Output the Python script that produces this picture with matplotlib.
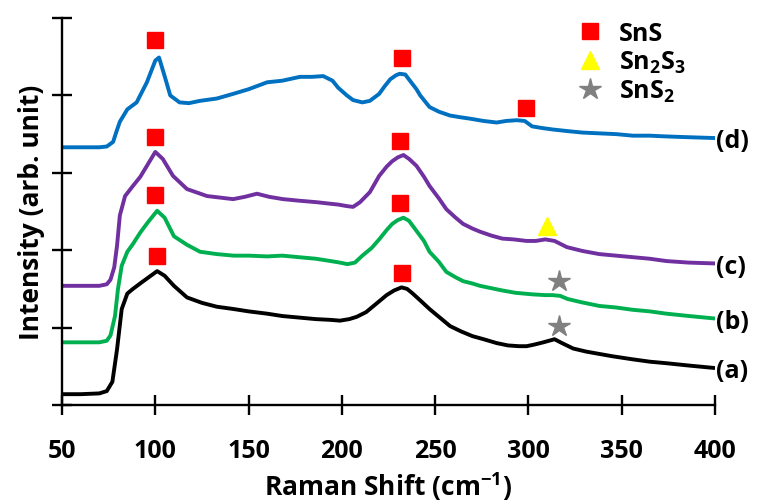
import matplotlib
matplotlib.use("Agg")
import matplotlib.pyplot as plt
from matplotlib.lines import Line2D

plt.rcParams['font.family'] = ['Open Sans', 'DejaVu Sans']
plt.rcParams['font.weight'] = 'bold'
plt.rcParams['mathtext.fontset'] = 'custom'
plt.rcParams['mathtext.rm'] = 'Open Sans:bold'
plt.rcParams['mathtext.default'] = 'rm'

# Raman spectra, offset vertically (a) -> (d)
x_a = [50, 60, 70, 74, 77, 79.5, 82, 85, 88, 93, 97, 101, 105, 110, 117, 125, 133, 142, 150,
       160, 168, 177, 186, 194, 199, 204, 208, 213, 219, 224, 228, 232, 235, 238, 243, 247,
       252, 258, 264, 270, 276, 283, 289, 295, 299, 303, 308, 314, 318, 324, 331, 338, 345,
       356, 365, 374, 386, 399]
y_a = [0.14, 0.14, 0.15, 0.18, 0.30, 0.72, 1.24, 1.44, 1.50, 1.59, 1.66, 1.73, 1.67, 1.54,
       1.39, 1.32, 1.27, 1.24, 1.21, 1.18, 1.15, 1.13, 1.11, 1.10, 1.09, 1.11, 1.14, 1.20,
       1.32, 1.42, 1.48, 1.52, 1.50, 1.44, 1.33, 1.24, 1.14, 1.02, 0.95, 0.89, 0.85, 0.80,
       0.77, 0.76, 0.76, 0.78, 0.81, 0.85, 0.80, 0.73, 0.69, 0.66, 0.63, 0.59, 0.56, 0.54,
       0.51, 0.48]

x_b = [50, 60, 70, 74, 76, 78.4, 80, 82, 85, 88, 92, 96, 101, 105, 110, 117, 124, 133, 142,
       150, 160, 168, 177, 186, 194, 199, 203, 207, 211, 216, 220, 224, 227, 230, 233, 236,
       240, 244, 247, 252, 256, 261, 265, 270, 274, 280, 286, 293, 302, 309, 313, 317, 321,
       328, 338, 347, 356, 365, 374, 386, 399]
y_b = [0.81, 0.81, 0.81, 0.83, 0.90, 1.15, 1.50, 1.80, 1.98, 2.08, 2.23, 2.36, 2.51, 2.42,
       2.18, 2.07, 1.98, 1.95, 1.93, 1.93, 1.92, 1.93, 1.91, 1.89, 1.86, 1.84, 1.82, 1.84,
       1.93, 2.03, 2.14, 2.26, 2.34, 2.39, 2.42, 2.38, 2.25, 2.12, 1.98, 1.85, 1.72, 1.65,
       1.60, 1.57, 1.54, 1.51, 1.48, 1.45, 1.43, 1.42, 1.42, 1.41, 1.37, 1.33, 1.28, 1.26,
       1.23, 1.21, 1.18, 1.15, 1.12]

x_c = [50, 60, 70, 74, 76, 78, 79.5, 81, 83.8, 88, 92, 95.5, 100, 104, 109.5, 117, 127.7,
       141.7, 148, 154.5, 161, 168.5, 177, 186.7, 194, 198, 202.7, 206, 209.7, 215, 220, 224,
       227, 230, 233, 236, 240, 244, 247, 252, 256, 261, 265, 270, 274, 280, 286, 292, 299,
       304, 309, 314, 320.6, 329, 338, 347, 356, 365, 374, 386, 399]
y_c = [1.54, 1.54, 1.54, 1.56, 1.62, 1.78, 2.06, 2.45, 2.70, 2.83, 2.95, 3.09, 3.27, 3.18,
       2.96, 2.79, 2.70, 2.66, 2.69, 2.73, 2.69, 2.66, 2.64, 2.62, 2.60, 2.59, 2.57, 2.56,
       2.62, 2.75, 2.96, 3.08, 3.15, 3.20, 3.23, 3.18, 3.09, 2.95, 2.83, 2.67, 2.53, 2.42,
       2.34, 2.28, 2.24, 2.19, 2.15, 2.14, 2.12, 2.12, 2.14, 2.12, 2.04, 1.99, 1.95, 1.93,
       1.91, 1.89, 1.86, 1.84, 1.83]

x_d = [50, 60, 70, 74, 77.4, 79, 81, 85, 90, 95.5, 100, 102, 105, 108, 113, 118, 124, 133,
       141.7, 150, 160, 168, 177.5, 184, 190, 195, 198, 202.7, 206, 211, 215, 220, 223, 226,
       229, 231, 234, 236.5, 240, 242, 247, 252, 258, 263, 268.6, 276, 283, 288, 293.8, 298,
       302, 307, 313, 320.6, 329, 338, 347, 356, 365, 374, 386, 399]
y_d = [3.33, 3.33, 3.33, 3.34, 3.40, 3.52, 3.66, 3.82, 3.91, 4.17, 4.45, 4.49, 4.25, 4.00,
       3.91, 3.90, 3.93, 3.96, 4.02, 4.08, 4.17, 4.19, 4.24, 4.24, 4.25, 4.19, 4.10, 4.00,
       3.94, 3.91, 3.93, 4.02, 4.12, 4.21, 4.26, 4.28, 4.27, 4.19, 4.08, 4.00, 3.85, 3.79,
       3.74, 3.72, 3.70, 3.67, 3.65, 3.67, 3.68, 3.67, 3.60, 3.58, 3.56, 3.54, 3.52, 3.51,
       3.50, 3.48, 3.48, 3.47, 3.46, 3.45]

spectra = [(x_a, y_a, '#000000', '(a)'),
           (x_b, y_b, '#00B050', '(b)'),
           (x_c, y_c, '#7030A0', '(c)'),
           (x_d, y_d, '#0070C0', '(d)')]

# Phase assignments
sns_x = [101, 232, 100, 231, 100, 231, 100, 232, 298.7]
sns_y = [1.93, 1.71, 2.71, 2.61, 3.46, 3.41, 4.72, 4.48, 3.84]
sn2s3_x = [310]
sn2s3_y = [2.31]
sns2_x = [316.5, 316.5]
sns2_y = [1.02, 1.60]

fig = plt.figure(figsize=(7.59, 5.02), dpi=100)
ax = fig.add_axes([0.0817, 0.1912, 0.8603, 0.7709])

for xs, ys, color, label in spectra:
    ax.plot(xs, ys, color=color, linewidth=2.8, solid_joinstyle='round')
    ax.annotate(label, xy=(xs[-1], ys[-1]), xytext=(2, -2), textcoords='offset points',
                ha='left', va='center', fontsize=18, fontweight='bold',
                annotation_clip=False)

ax.plot(sns_x, sns_y, 's', color='#FF0000', markersize=12, linestyle='none')
ax.plot(sn2s3_x, sn2s3_y, '^', color='#FFFF00', markersize=13, linestyle='none')
ax.plot(sns2_x, sns2_y, '*', color='#808080', markersize=16, linestyle='none')

handles = [Line2D([], [], marker='s', color='#FF0000', markersize=12, linestyle='none'),
           Line2D([], [], marker='^', color='#FFFF00', markersize=13, linestyle='none'),
           Line2D([], [], marker='*', color='#808080', markersize=16, linestyle='none')]
ax.legend(handles, ['SnS', 'Sn$_2$S$_3$', 'SnS$_2$'], loc='upper left',
          bbox_to_anchor=(0.776, 1.019), frameon=False, fontsize=18,
          handlelength=0.9, handletextpad=0.7, labelspacing=0.11, borderaxespad=0)

ax.set_xlim(50, 400)
ax.set_ylim(0, 5)
ax.set_xticks(range(50, 401, 50))
ax.set_yticks(range(0, 6))
ax.set_yticklabels([])
ax.tick_params(direction='inout', length=15, width=1.7, labelsize=18, pad=16)
for side in ['top', 'right']:
    ax.spines[side].set_visible(False)
for side in ['left', 'bottom']:
    ax.spines[side].set_linewidth(1.7)

ax.set_xlabel('Raman Shift (cm$^{-1}$)', fontsize=19, fontweight='bold', labelpad=5)
ax.set_ylabel('Intensity (arb. unit)', fontsize=19, fontweight='bold', labelpad=-11)

fig.savefig('out.png', dpi=100)
